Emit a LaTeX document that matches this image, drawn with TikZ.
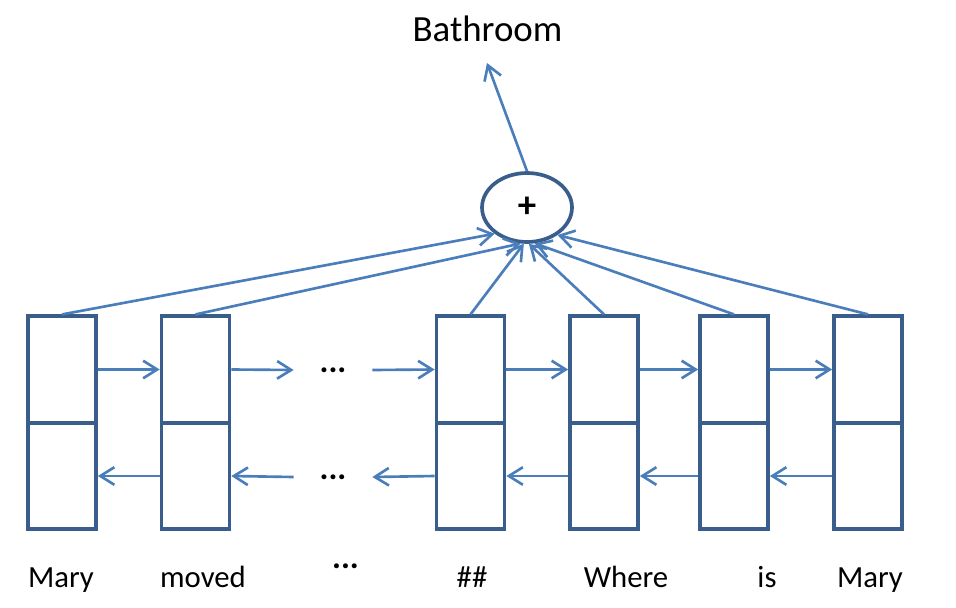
\documentclass[tikz,border=0pt]{standalone}
\usepackage{fontspec}
\setmainfont{Carlito}
\usetikzlibrary{arrows.meta,shapes.geometric}
\definecolor{boxblue}{RGB}{58,94,140}
\definecolor{arrblue}{RGB}{74,126,187}
\newcommand{\cell}[2]{\node[half] (t#1) at (#2,369.5) {};
	\node[half] (b#1) at (#2,476) {}}
\newcommand{\word}[3]{\node[word] (w#1) at (#2,587) {#3}}

\begin{document}
\begin{tikzpicture}[x=0.02cm, y=-0.02cm,
	epais/.style={line width=2.1pt},
	half/.style={draw=boxblue, epais, minimum width=1.36cm, minimum height=2.13cm, inner sep=0pt},
	link/.style={arrblue, line width=1.5pt, -{Straight Barb[length=8pt,width=10pt]}},
	dots/.style={font=\fontsize{19}{22}\selectfont\bfseries, inner sep=0pt, minimum width=1.56cm},
	word/.style={anchor=base, font=\fontsize{17.5}{20}\selectfont}]
\useasboundingbox (0,0) rectangle (956,608);
%Cells
	\cell{1}{62};
	\cell{2}{195.5};
	\cell{3}{470.5};
	\cell{4}{604};
	\cell{5}{734};
	\cell{6}{868};
	\node[dots] (dt) at (333,370) {...};
	\node[dots] (db) at (333,477) {...};
%Sum and output
	\node[draw=boxblue, epais, ellipse, minimum width=1.8cm, minimum height=1.38cm, inner sep=0pt,
		font=\fontsize{21}{24}\selectfont\bfseries] (plus) at (527,207.5) {+};
	\node[anchor=base, font=\fontsize{21}{24}\selectfont] (out) at (487.5,42) {Bathroom};
	\coordinate (tip) at (487,63);
	\draw[link] (plus.north) -- (tip);
%Forward links
	\draw[link] (t1.east) -- (t2.west);
	\draw[link] (t2.east) -- (dt.west);
	\draw[link] (dt.east) -- (t3.west);
	\draw[link] (t3.east) -- (t4.west);
	\draw[link] (t4.east) -- (t5.west);
	\draw[link] (t5.east) -- (t6.west);
%Backward links
	\draw[link] (b2.west) -- (b1.east);
	\draw[link] (db.west) -- (b2.east);
	\draw[link] (b3.west) -- (db.east);
	\draw[link] (b4.west) -- (b3.east);
	\draw[link] (b5.west) -- (b4.east);
	\draw[link] (b6.west) -- (b5.east);
%Into the sum
	\draw[link] (t1.north) -- (plus.219);
	\draw[link] (t2.north) -- (plus.260);
	\draw[link] (t3.north) -- (plus.265);
	\draw[link] (t4.north) -- (plus.273);
	\draw[link] (t5.north) -- (plus.282);
	\draw[link] (t6.north) -- (plus.318);
%Words
	\word{1}{61}{Mary};
	\word{2}{203}{moved};
	\node[dots] (wd) at (345.5,566) {...};
	\word{3}{472}{\#\#};
	\word{4}{626}{Where};
	\word{5}{767}{is};
	\word{6}{870}{Mary};
\end{tikzpicture}
\end{document}
